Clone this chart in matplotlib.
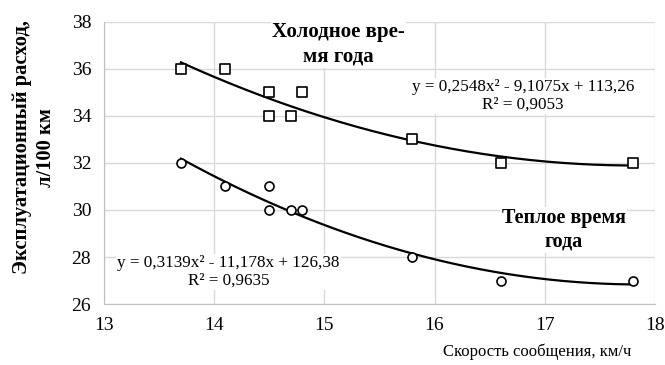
import numpy as np
import matplotlib.pyplot as plt

plt.rcParams['font.family'] = ['Liberation Serif', 'DejaVu Serif']

# скорость сообщения, км/ч
speed = [13.7, 14.1, 14.5, 14.5, 14.7, 14.8, 15.8, 16.6, 17.8]
# расход, л/100 км
cold = [36, 36, 35, 34, 34, 35, 33, 32, 32]
warm = [32, 31, 31, 30, 30, 30, 28, 27, 27]

fig = plt.figure(figsize=(6.65, 3.65), dpi=100)
ax = fig.add_axes([0.156, 0.167, 0.829, 0.773])

# полиномиальные линии тренда 2-й степени
xs = np.linspace(min(speed), max(speed), 200)
for y in (cold, warm):
    p = np.polyfit(speed, y, 2)
    ax.plot(xs, np.polyval(p, xs), color='black', lw=1.6, zorder=3)

ax.scatter(speed, cold, marker='s', s=50, facecolors='white', edgecolors='black', linewidths=1.2, zorder=4)
ax.scatter(speed, warm, marker='o', s=42, facecolors='white', edgecolors='black', linewidths=1.2, zorder=4)

ax.set_xlim(13, 18)
ax.set_ylim(26, 38)
ax.set_xticks(range(13, 19))
ax.set_yticks(range(26, 39, 2))
ax.grid(True, color='#d9d9d9', lw=1)
ax.set_axisbelow(True)
for s in ('top', 'right'):
    ax.spines[s].set_visible(False)
for s in ('left', 'bottom'):
    ax.spines[s].set_color('#bfbfbf')
ax.tick_params(length=0, labelsize=14, pad=9)

box = dict(facecolor='white', edgecolor='none', pad=1)
ax.text(15.13, 37.05, 'Холодное вре-\nмя года', ha='center', va='center', fontsize=15,
        fontweight='bold', bbox=box, linespacing=1.25, zorder=2)
ax.text(17.17, 29.15, 'Теплое время\nгода', ha='center', va='center', fontsize=14.5,
        fontweight='bold', bbox=box, linespacing=1.25, zorder=2)
ax.text(16.8, 34.85, 'y = 0,2548x² - 9,1075x + 113,26\nR² = 0,9053', ha='center', va='center',
        fontsize=12.3, bbox=box, linespacing=1.1, zorder=2)
ax.text(14.13, 27.36, 'y = 0,3139x² - 11,178x + 126,38\nR² = 0,9635', ha='center', va='center',
        fontsize=12.3, bbox=box, linespacing=1.1, zorder=2)

fig.text(0.051, 0.597, 'Эксплуатационный расход,\nл/100 км', rotation=90, ha='center', va='center',
         fontsize=14.8, fontweight='bold', linespacing=1.25)
fig.text(0.95, 0.036, 'Скорость сообщения, км/ч', ha='right', va='center', fontsize=12)

fig.savefig('out.png', dpi=100)
